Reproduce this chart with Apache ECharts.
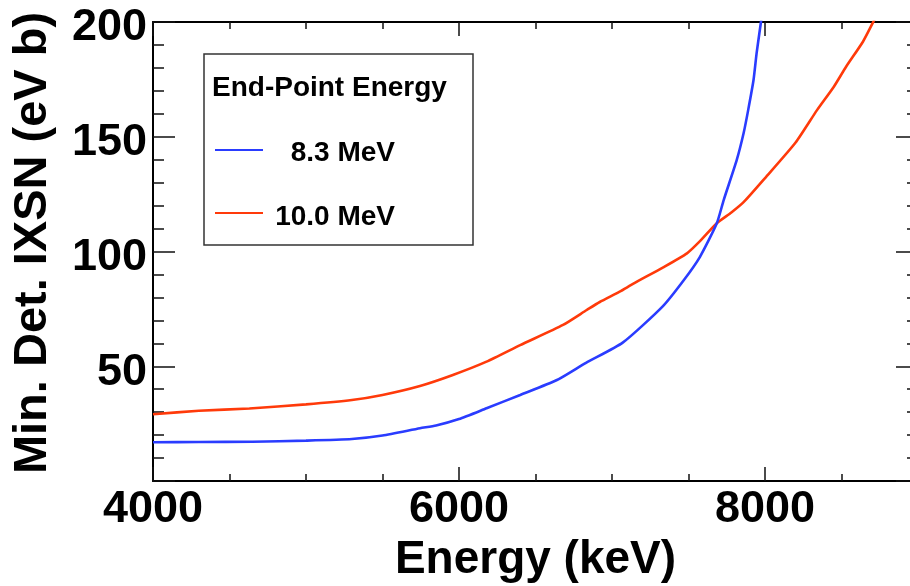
<!DOCTYPE html>
<html>
<head>
<meta charset="utf-8">
<script src="https://cdn.jsdelivr.net/npm/echarts@6/dist/echarts.min.js"></script>
<style>
  html, body { margin: 0; padding: 0; background: #fff; }
  #chart { width: 910px; height: 586px; }
</style>
</head>
<body>
<div id="chart"></div>
<script>
// ---- Data ----
const seriesNames = ['8.3 MeV', '10.0 MeV'];
const legendTitle = 'End-Point Energy';
const xTitle = 'Energy (keV)';
const yTitle = 'Min. Det. IXSN (eV b)';

// 8.3 MeV end-point energy
const energy83 = [4000, 4300, 4650, 5000, 5300, 5500, 5745, 5850, 6000, 6180, 6400, 6640, 6830, 7070, 7330, 7470, 7575, 7685, 7730, 7815, 7860, 7890, 7925, 7945, 7963, 7980];
const ixsn83   = [16.9, 17.0, 17.1, 17.6, 18.3, 19.8, 23.0, 24.2, 27.0, 31.7, 37.5, 44.0, 51.5, 60.3, 76.0, 87.6, 97.7, 112.3, 122.4, 139.8, 151.5, 161.6, 174.7, 186.3, 195.0, 203.0];

// 10.0 MeV end-point energy
const energy100 = [4000, 4300, 4630, 5000, 5300, 5500, 5745, 5960, 6180, 6400, 6680, 6835, 6920, 7050, 7140, 7335, 7490, 7575, 7685, 7780, 7860, 8000, 8200, 8340, 8450, 8530, 8640, 8705, 8730];
const ixsn100   = [29.1, 30.6, 31.6, 33.4, 35.3, 37.5, 41.4, 46.2, 52.0, 59.2, 68.0, 74.5, 78.0, 82.5, 86.0, 93.1, 99.2, 104.5, 112.3, 117.0, 121.5, 132.0, 147.5, 161.6, 171.8, 180.5, 191.4, 199.7, 203.0];

// axis ranges / ticks
const xMin = 4000, xMax = 9000, xStep = 2000, xMinorSplit = 4;
const yMin = 0, yMax = 200, yStep = 50, yMinorSplit = 5;

const colors = ['#2a3cff', '#ff3a0a'];
const FONT = '"Liberation Sans", Arial, Helvetica, sans-serif';

const chart = echarts.init(document.getElementById('chart'), null, { renderer: 'canvas' });

function pairs(xs, ys) { return xs.map((x, i) => [x, ys[i]]); }

const axisLineStyle = { color: '#000', width: 2 };
const tickStyle = { color: '#111', width: 1.5 };

const option = {
  backgroundColor: '#fff',
  animation: false,
  grid: { left: 153, top: 22, width: 765, height: 459, containLabel: false, outerBoundsMode: 'none' },
  xAxis: [
    {
      type: 'value', min: xMin, max: xMax, interval: xStep, position: 'bottom',
      axisLine: { show: true, onZero: false, lineStyle: axisLineStyle },
      axisTick: { show: true, inside: true, length: 14, lineStyle: tickStyle },
      minorTick: { show: true, splitNumber: xMinorSplit, length: 7, lineStyle: tickStyle },
      splitLine: { show: false },
      axisLabel: {
        show: true, margin: 6, fontSize: 45, fontWeight: 'bold', fontFamily: FONT, color: '#000',
        formatter: v => (v === xMax ? '' : String(v))
      },
      name: xTitle, nameLocation: 'middle', nameGap: 39,
      nameTextStyle: { fontSize: 46, fontWeight: 'bold', fontFamily: FONT, color: '#000' }
    },
    {
      type: 'value', min: xMin, max: xMax, interval: xStep, position: 'top',
      axisLine: { show: true, onZero: false, lineStyle: axisLineStyle },
      axisTick: { show: true, inside: true, length: 14, lineStyle: tickStyle },
      minorTick: { show: true, splitNumber: xMinorSplit, length: 7, lineStyle: tickStyle },
      splitLine: { show: false },
      axisLabel: { show: false }
    }
  ],
  yAxis: [
    {
      type: 'value', min: yMin, max: yMax, interval: yStep, position: 'left',
      axisLine: { show: true, onZero: false, lineStyle: axisLineStyle },
      axisTick: { show: true, inside: true, length: 22, lineStyle: tickStyle },
      minorTick: { show: true, splitNumber: yMinorSplit, length: 11, lineStyle: tickStyle },
      splitLine: { show: false },
      axisLabel: {
        show: true, margin: 6, fontSize: 45, fontWeight: 'bold', fontFamily: FONT, color: '#000',
        verticalAlign: 'top', lineHeight: 12,
        formatter: v => (v === yMin ? '' : String(v))
      },
      name: yTitle, nameLocation: 'middle', nameGap: 96,
      nameTextStyle: { fontSize: 47, fontWeight: 'bold', fontFamily: FONT, color: '#000', padding: [0, 0, 0, 17] }
    },
    {
      type: 'value', min: yMin, max: yMax, interval: yStep, position: 'right',
      axisLine: { show: true, onZero: false, lineStyle: axisLineStyle },
      axisTick: { show: true, inside: true, length: 22, lineStyle: tickStyle },
      minorTick: { show: true, splitNumber: yMinorSplit, length: 11, lineStyle: tickStyle },
      splitLine: { show: false },
      axisLabel: { show: false }
    }
  ],
  series: [
    {
      name: seriesNames[0], type: 'line', xAxisIndex: 0, yAxisIndex: 0,
      data: pairs(energy83, ixsn83), showSymbol: false, symbol: 'none', smooth: 0.2, clip: true,
      lineStyle: { color: colors[0], width: 2.6 }, z: 3
    },
    {
      name: seriesNames[1], type: 'line', xAxisIndex: 0, yAxisIndex: 0,
      data: pairs(energy100, ixsn100), showSymbol: false, symbol: 'none', smooth: 0.2, clip: true,
      lineStyle: { color: colors[1], width: 2.6 }, z: 2
    }
  ],
  graphic: [
    {
      type: 'rect', z: 10,
      shape: { x: 204, y: 54, width: 269, height: 191 },
      style: { fill: '#fff', stroke: '#333', lineWidth: 1.5 }
    },
    {
      type: 'text', z: 11, x: 212, y: 88,
      style: { text: legendTitle, font: 'bold 28px ' + FONT, fill: '#000', textAlign: 'left', textVerticalAlign: 'middle' }
    },
    {
      type: 'line', z: 11,
      shape: { x1: 215, y1: 150, x2: 263, y2: 150 },
      style: { stroke: colors[0], lineWidth: 2 }
    },
    {
      type: 'text', z: 11, x: 395, y: 153,
      style: { text: seriesNames[0], font: 'bold 28px ' + FONT, fill: '#000', textAlign: 'right', textVerticalAlign: 'middle' }
    },
    {
      type: 'line', z: 11,
      shape: { x1: 215, y1: 213, x2: 263, y2: 213 },
      style: { stroke: colors[1], lineWidth: 2 }
    },
    {
      type: 'text', z: 11, x: 395, y: 217,
      style: { text: seriesNames[1], font: 'bold 28px ' + FONT, fill: '#000', textAlign: 'right', textVerticalAlign: 'middle' }
    }
  ]
};

chart.setOption(option);
</script>
</body>
</html>
